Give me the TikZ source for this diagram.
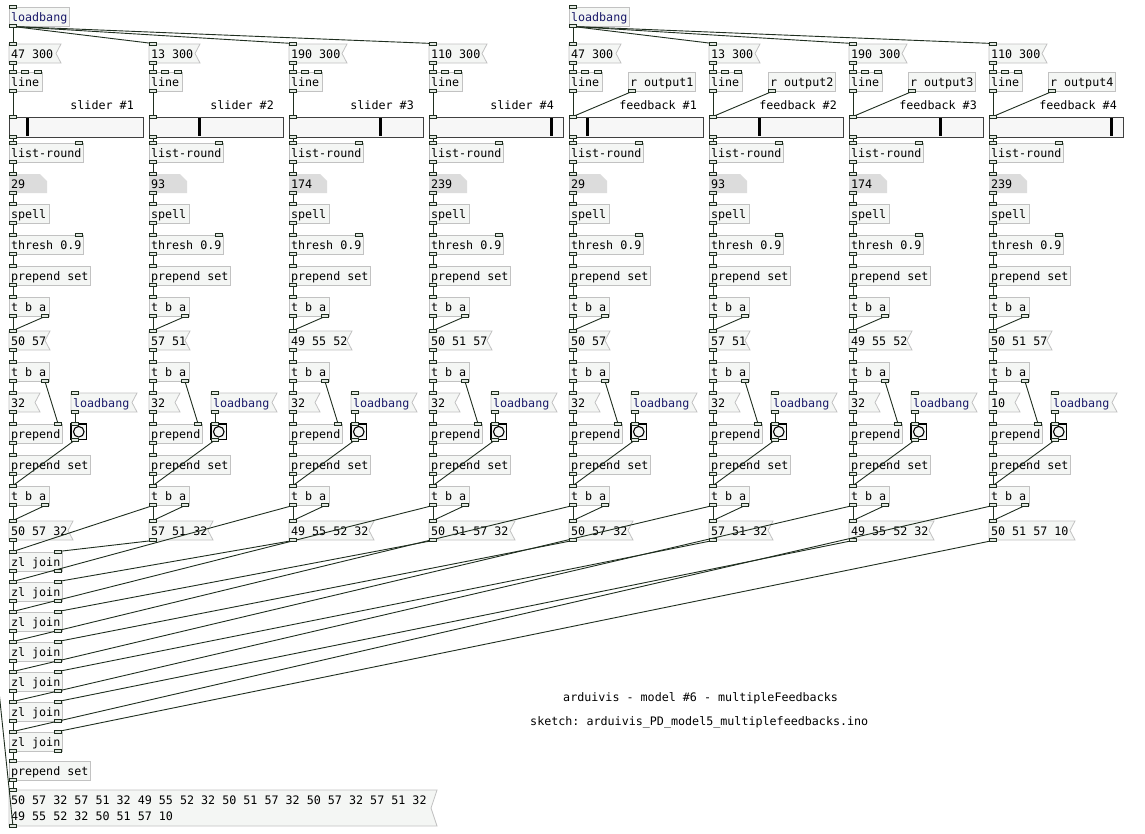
\documentclass[tikz,border=0pt]{standalone}
\usepackage{fontspec}
\newfontfamily\pdfont{DejaVu Sans Mono}
\usetikzlibrary{calc}
\frenchspacing
\definecolor{box-edge}{HTML}{C2C2C2}
\definecolor{box-fill}{HTML}{F4F6F4}
\definecolor{cord-dark}{HTML}{1F2E1F}
\definecolor{port-fill}{HTML}{E2E8E2}
\definecolor{num-fill}{HTML}{DCDCDC}
\definecolor{lb-blue}{HTML}{1A1A6A}

% box with text: [extra]{name}{x}{y}{width}{text}
\newcommand{\pdbox}[6][]{\node[obj, minimum width=#5pt, #1] (#2) at (#3,#4) {\hbox to \dimexpr#5pt-4pt\relax{#6\hss}};}
% message box, notch on the right
\newcommand{\pdmsg}[6][]{%
  \path[msgshape] (#3,#4) -- ++(#5,0) -- ++(-5,9.5) -- ++(5,9.5) -- ++(-#5,0) -- cycle;
  \node[obj, bare, minimum width=#5pt, #1] (#2) at (#3,#4) {\hbox to \dimexpr#5pt-4pt\relax{#6\hss}};}
% number box, cut corner
\newcommand{\pdnum}[5]{%
  \fill[num-fill] (#2,#3) -- ++(#4-7,0) -- ++(7,7) -- ++(0,12) -- ++(-#4,0) -- cycle;
  \node[obj, bare, minimum width=#4pt] (#1) at (#2,#3) {\hbox to \dimexpr#4pt-4pt\relax{#5\hss}};}
\newcommand{\inlets}[2]{\foreach \p in {#2}{\draw[port] ($(#1.north west)+(\p+0.5,-1.3)$) rectangle ++(7,2.6);}}
\newcommand{\outlets}[2]{\foreach \p in {#2}{\draw[port] ($(#1.south west)+(\p+0.5,-1.3)$) rectangle ++(7,2.6);}}
\newcommand{\wire}[4]{\draw[cord] ($(#1.south west)+(#2+4,0.5)$) -- ($(#3.north west)+(#4+4,-0.5)$);}

\begin{document}
\begin{tikzpicture}[x=1pt, y=-1pt,
    obj/.style={anchor=north west, draw=box-edge, fill=box-fill, line width=0.8pt,
      inner xsep=2pt, inner ysep=0pt, outer sep=0pt, minimum height=19pt,
      text height=11pt, text depth=2pt, font=\pdfont\fontsize{11.7}{14}\selectfont},
    bare/.style={draw=none, fill=none},
    msgshape/.style={draw=box-edge, fill=box-fill, line width=0.8pt},
    port/.style={draw=cord-dark, fill=port-fill, line width=0.6pt},
    cord/.style={draw=cord-dark, line width=0.9pt},
    lbl/.style={font=\pdfont\fontsize{11.7}{14}\selectfont, inner sep=0pt},
    slider/.style={anchor=north west, draw=black!75, fill=white!97!black, line width=0.8pt,
      minimum width=134pt, minimum height=20pt, inner sep=0pt, outer sep=0pt},
    bangbox/.style={anchor=north west, draw=black, fill=box-fill, line width=1.3pt,
      minimum width=15.5pt, minimum height=15.5pt, inner sep=0pt, outer sep=0pt}]
  \fill[white] (0,0) rectangle (1145,833);
  \useasboundingbox (0,0) rectangle (1145,833);

  % loadbangs on top
  \pdbox[text=lb-blue]{lbA}{9}{7}{60}{loadbang}
  \pdbox[text=lb-blue]{lbB}{569}{7}{60}{loadbang}

  % the eight columns
  \foreach \i/\ini/\iw/\lab/\lx/\num/\asc/\aw/\sp/\outm/\ow/\pos in {
      1/47 300/52/slider \#1/125/29/50 57/41/32/50 57 32/64/17,
      2/13 300/51/slider \#2/125/93/57 51/41/32/57 51 32/64/49,
      3/190 300/58/slider \#3/125/174/49 55 52/63/32/49 55 52 32/85/90,
      4/110 300/58/slider \#4/125/239/50 51 57/63/32/50 51 57 32/86/121,
      5/47 300/52/feedback \#1/128/29/50 57/41/32/50 57 32/64/17,
      6/13 300/51/feedback \#2/128/93/57 51/41/32/57 51 32/64/49,
      7/190 300/58/feedback \#3/128/174/49 55 52/63/32/49 55 52 32/85/90,
      8/110 300/58/feedback \#4/128/239/50 51 57/63/10/50 51 57 10/86/121}{
    \pgfmathsetmacro\x{9+140*(\i-1)}
    \pdmsg{ini\i}{\x}{44}{\iw}{\ini}
    \pdbox{ln\i}{\x}{72}{33}{line}
    \node[lbl, anchor=base east] (tag\i) at (\x+\lx,109) {\lab};
    \node[slider] (sl\i) at (\x,117) {};
    \fill[black] ($(sl\i.north west)+(\pos,1)$) rectangle ++(3,18);
    \pdbox{rd\i}{\x}{143}{74}{list-round}
    \pdnum{nb\i}{\x}{174}{38}{\num}
    \pdbox{sp\i}{\x}{204}{40}{spell}
    \pdbox{th\i}{\x}{235}{74}{thresh 0.9}
    \pdbox{ps\i}{\x}{266}{81}{prepend set}
    \pdbox{ta\i}{\x}{297}{40}{t b a}
    \pdmsg{as\i}{\x}{331}{\aw}{\asc}
    \pdbox{tb\i}{\x}{362}{40}{t b a}
    \pdmsg{sc\i}{\x}{393}{31}{\sp}
    \pdmsg[text=lb-blue]{lm\i}{\x+62}{393}{66}{loadbang}
    \pdbox{pp\i}{\x}{424}{53}{prepend}
    \node[bangbox] (bg\i) at (\x+62,424) {};
    \draw[black, line width=1.1pt] (bg\i.center) circle (5.3);
    \pdbox{pq\i}{\x}{455}{81}{prepend set}
    \pdbox{tc\i}{\x}{486}{40}{t b a}
    \pdmsg{ou\i}{\x}{521}{\ow}{\outm}
  }

  % receives for the feedback sliders
  \foreach \k in {5,...,8}{
    \pgfmathsetmacro\x{9+140*(\k-1)}
    \pgfmathtruncatemacro\n{\k-4}
    \pdbox{rcv\k}{\x+59}{72}{67}{r output\n}
  }

  % joining chain
  \foreach \k in {1,...,7}{
    \pgfmathsetmacro\y{522+30*\k}
    \pdbox{zj\k}{9}{\y}{53}{zl join}
  }
  \pdbox{fin}{9}{761}{81}{prepend set}
  \path[msgshape] (9,790) -- ++(428,0) -- ++(-6,18) -- ++(6,18) -- ++(-428,0) -- cycle;
  \node[obj, bare, minimum width=428pt, minimum height=36pt, text height=27pt, text depth=3pt] (big) at (9,790)
    {\hbox to 424pt{\vbox{\baselineskip=15.5pt
      \hbox{50 57 32 57 51 32 49 55 52 32 50 51 57 32 50 57 32 57 51 32}
      \hbox{49 55 52 32 50 51 57 10}}\hss}};
  \coordinate (offleft) at (-3,672);

  % comments
  \node[lbl, anchor=base west] (title) at (563,701) {arduivis - model \#6 - multipleFeedbacks};
  \node[lbl, anchor=base west] (sketch) at (530,725) {sketch: arduivis\_PD\_model5\_multiplefeedbacks.ino};

  % cords
  \foreach \k in {1,...,4}{\wire{lbA}{0}{ini\k}{0}}
  \foreach \k in {5,...,8}{\wire{lbB}{0}{ini\k}{0}\wire{rcv\k}{0}{sl\k}{0}}
  \foreach \i in {1,...,8}{
    \wire{ini\i}{0}{ln\i}{0}
    \wire{ln\i}{0}{sl\i}{0}
    \wire{sl\i}{0}{rd\i}{0}
    \wire{rd\i}{0}{nb\i}{0}
    \wire{nb\i}{0}{sp\i}{0}
    \wire{sp\i}{0}{th\i}{0}
    \wire{th\i}{0}{ps\i}{0}
    \wire{ps\i}{0}{ta\i}{0}
    \wire{ta\i}{0}{as\i}{0}
    \wire{ta\i}{32}{as\i}{0}
    \wire{as\i}{0}{tb\i}{0}
    \wire{tb\i}{0}{sc\i}{0}
    \wire{tb\i}{32}{pp\i}{45}
    \wire{sc\i}{0}{pp\i}{0}
    \wire{lm\i}{0}{bg\i}{0}
    \wire{pp\i}{0}{pq\i}{0}
    \wire{pq\i}{0}{tc\i}{0}
    \wire{bg\i}{0}{tc\i}{0}
    \wire{tc\i}{0}{ou\i}{0}
    \wire{tc\i}{32}{ou\i}{0}
  }
  \wire{ou1}{0}{zj1}{0}
  \foreach \k [evaluate=\k as \j using int(\k-1)] in {2,...,8}{
    \wire{tc\k}{0}{zj\j}{0}
    \wire{ou\k}{0}{zj\j}{45}
  }
  \foreach \k [evaluate=\k as \n using int(\k+1)] in {1,...,6}{\wire{zj\k}{0}{zj\n}{0}}
  \wire{zj7}{0}{fin}{0}
  \wire{fin}{0}{big}{0}
  \draw[cord] ($(big.south west)+(4,0.5)$) -- (offleft);

  % inlets and outlets
  \inlets{lbA}{0}\outlets{lbA}{0}
  \inlets{lbB}{0}\outlets{lbB}{0}
  \foreach \i in {1,...,8}{
    \inlets{ini\i}{0}\outlets{ini\i}{0}
    \inlets{ln\i}{0,12,25}\outlets{ln\i}{0}
    \inlets{sl\i}{0}\outlets{sl\i}{0}
    \inlets{rd\i}{0,66}\outlets{rd\i}{0}
    \inlets{nb\i}{0}\outlets{nb\i}{0}
    \inlets{sp\i}{0}\outlets{sp\i}{0}
    \inlets{th\i}{0,66}\outlets{th\i}{0}
    \inlets{ps\i}{0}\outlets{ps\i}{0}
    \inlets{ta\i}{0}\outlets{ta\i}{0,32}
    \inlets{as\i}{0}\outlets{as\i}{0}
    \inlets{tb\i}{0}\outlets{tb\i}{0,32}
    \inlets{sc\i}{0}\outlets{sc\i}{0}
    \inlets{lm\i}{0}\outlets{lm\i}{0}
    \inlets{pp\i}{0,45}\outlets{pp\i}{0}
    \inlets{bg\i}{0}\outlets{bg\i}{0}
    \inlets{pq\i}{0}\outlets{pq\i}{0}
    \inlets{tc\i}{0}\outlets{tc\i}{0,32}
    \inlets{ou\i}{0}\outlets{ou\i}{0}
  }
  \foreach \k in {5,...,8}{\outlets{rcv\k}{0}}
  \foreach \k in {1,...,7}{\inlets{zj\k}{0,45}\outlets{zj\k}{0,45}}
  \inlets{fin}{0}\outlets{fin}{0}
  \inlets{big}{0}\outlets{big}{0}
\end{tikzpicture}
\end{document}
